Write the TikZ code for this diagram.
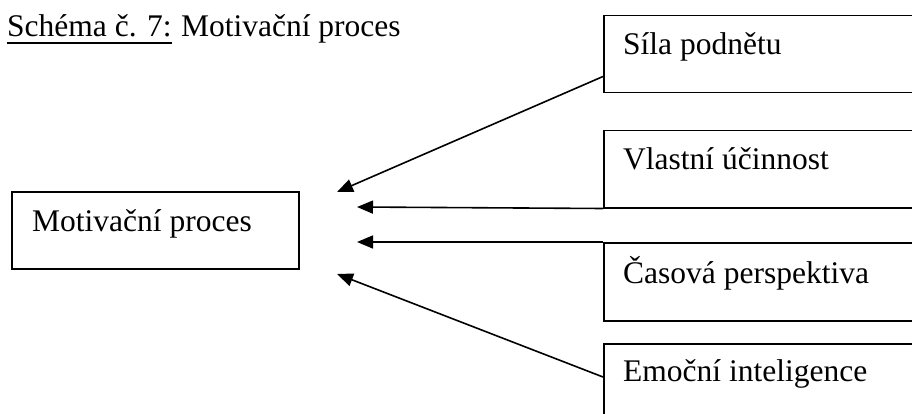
\documentclass[tikz,border=0pt]{standalone}
\usepackage{fontspec}
\setmainfont{Liberation Serif}
\usetikzlibrary{arrows.meta}
\begin{document}
\begin{tikzpicture}[x=1pt,y=-1pt,
  box/.style={draw, line width=1.5pt, rectangle, inner sep=0pt, anchor=north west},
  lbl/.style={anchor=base west, inner sep=0pt, font=\fontsize{31.5}{38}\selectfont},
  arr/.style={line width=1.6pt, -{Triangle[length=16pt,width=13pt]}}]
\useasboundingbox (0,0) rectangle (912,414);
\clip (0,0) rectangle (912,414);

% caption
\node[lbl] (cap) at (7,37) {Schéma č. 7:};
\draw[line width=1.2pt] ([yshift=-6pt]cap.base west) -- ([yshift=-6pt]cap.base east);
\node[lbl] (captitle) at ([xshift=9pt]cap.base east) {Motivační proces};

% central box
\node[box, minimum width=287pt, minimum height=77pt] (proces) at (11,191) {};
\node[lbl] (proces-t) at (32,231) {Motivační proces};

% factor boxes (running off the right edge)
\node[box, minimum width=330pt, minimum height=77pt] (sila) at (603,15) {};
\node[lbl] (sila-t) at (623,55) {Síla podnětu};

\node[box, minimum width=330pt, minimum height=77pt] (vlastni) at (603,130) {};
\node[lbl] (vlastni-t) at (623,170) {Vlastní účinnost};

\node[box, minimum width=330pt, minimum height=78pt] (casova) at (603,242) {};
\node[lbl] (casova-t) at (623,283) {Časová perspektiva};

\node[box, minimum width=330pt, minimum height=100pt] (emocni) at (603,343) {};
\node[lbl] (emocni-t) at (623,381) {Emoční inteligence};

% arrow targets beside the central box
\coordinate (a1) at (337,192);
\coordinate (a2) at (357,207);
\coordinate (a3) at (357,242);
\coordinate (a4) at (337,274);

\draw[arr] ([yshift=17pt]sila.south west) -- (a1);
\draw[arr] (vlastni.south west) -- (a2);
\draw[arr] (casova.north west) -- (a3);
\draw[arr] ([yshift=-34pt]emocni.north west) -- (a4);
\end{tikzpicture}
\end{document}
